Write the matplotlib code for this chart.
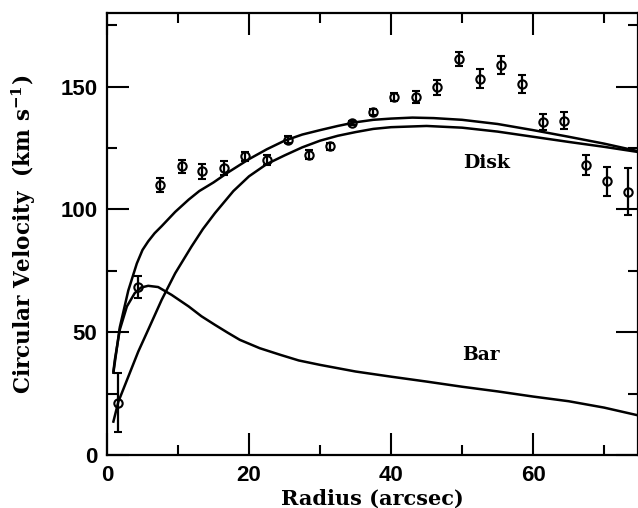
import matplotlib
matplotlib.use('Agg')
import matplotlib.pyplot as plt
import numpy as np

# observed circular velocities
radius = [1.5, 4.4, 7.5, 10.5, 13.4, 16.5, 19.5, 22.5, 25.5, 28.4, 31.4, 34.5, 37.5,
          40.4, 43.5, 46.5, 49.6, 52.5, 55.5, 58.5, 61.4, 64.4, 67.4, 70.4, 73.4]
vel = [21.2, 68.4, 110.0, 117.5, 115.5, 116.9, 121.6, 120.3, 128.4, 122.3, 125.7, 135.2, 139.7,
       145.8, 145.8, 149.7, 161.4, 153.3, 158.7, 151.2, 135.6, 136.2, 118.2, 111.4, 107.3]
vel_err = [12.0, 4.3, 3.0, 2.7, 2.9, 2.9, 1.7, 2.0, 1.5, 1.8, 1.5, 1.0, 1.3,
           1.5, 2.4, 2.9, 2.9, 3.9, 3.6, 3.6, 3.4, 3.6, 4.1, 5.8, 9.5]

# model curves
r_total = [0.9, 1.8, 3.0, 4.2, 5.0, 5.8, 6.7, 7.7, 9.6, 11.5, 13.0, 15.0, 17.0, 20.0, 22.5,
           25.0, 27.5, 30.0, 32.5, 35.0, 37.5, 40.0, 43.0, 46.0, 50.0, 55.0, 60.0, 65.0,
           70.0, 75.0]
v_total = [33.5, 52.0, 67.0, 78.0, 83.5, 87.0, 90.3, 93.2, 99.0, 104.0, 107.5, 111.0, 115.0,
           120.5, 124.5, 128.0, 130.5, 132.3, 134.0, 135.5, 136.5, 137.0, 137.4, 137.2, 136.5,
           134.8, 132.3, 129.6, 126.8, 123.6]

r_disk = [0.9, 1.6, 3.0, 4.4, 5.8, 7.7, 9.6, 11.9, 13.5, 15.2, 17.8, 20.0, 22.5, 25.0, 27.5,
          30.0, 32.5, 35.0, 37.5, 40.0, 45.0, 50.0, 55.0, 60.0, 65.0, 70.0, 75.0]
v_disk = [13.6, 21.7, 31.9, 42.1, 51.0, 63.2, 74.0, 84.9, 92.0, 98.5, 107.5, 113.5, 118.5,
          122.0, 125.3, 128.0, 130.0, 131.5, 132.8, 133.5, 134.0, 133.3, 131.7, 129.6, 127.5,
          125.5, 123.3]

r_bar = [0.9, 1.1, 1.8, 2.8, 3.9, 4.8, 5.8, 7.2, 9.1, 11.5, 13.3, 15.2, 17.0, 18.7, 21.5,
         24.4, 27.0, 30.0, 35.0, 40.0, 45.0, 50.0, 55.0, 60.0, 65.0, 70.0, 75.0]
v_bar = [34.0, 38.7, 51.0, 60.5, 65.9, 68.2, 68.9, 68.4, 65.2, 60.5, 56.5, 53.0, 49.8, 46.9,
         43.5, 40.8, 38.5, 36.7, 34.0, 31.9, 29.9, 27.8, 25.9, 23.8, 21.9, 19.3, 16.0]

plt.rcParams['mathtext.fontset'] = 'dejavuserif'
plt.rcParams['mathtext.default'] = 'bf'

fig = plt.figure(figsize=(6.38, 5.08), dpi=100)
ax = fig.add_axes([107 / 638, 1 - 455 / 508, 530.5 / 638, 442 / 508])

ax.plot(r_total, v_total, color='black', lw=1.8, zorder=2)
ax.plot(r_disk, v_disk, color='black', lw=1.8, zorder=2)
ax.plot(r_bar, v_bar, color='black', lw=1.8, zorder=2)

ax.errorbar(radius, vel, yerr=vel_err, fmt='o', ms=6, mfc='none', mec='black', mew=1.5,
            ecolor='black', elinewidth=1.6, capsize=3, capthick=1.6, zorder=3)

ax.text(53.5, 118.8, 'Disk', family='DejaVu Serif', fontweight='bold', fontsize=13.5,
        ha='center', va='center')
ax.text(52.7, 40.8, 'Bar', family='DejaVu Serif', fontweight='bold', fontsize=13.5,
        ha='center', va='center')

ax.set_xlim(0, 74.7)
ax.set_ylim(0, 180)
ax.set_xticks([0, 20, 40, 60])
ax.set_xticks([10, 30, 50, 70], minor=True)
ax.set_yticks([0, 50, 100, 150])
ax.set_yticks([25, 75, 125, 175], minor=True)
ax.tick_params(which='both', direction='in', top=True, right=True, width=1.5, color='black')
ax.tick_params(which='major', length=16, pad=7)
ax.tick_params(which='minor', length=7.5)
for lab in ax.get_xticklabels() + ax.get_yticklabels():
    lab.set_family('Liberation Sans')
    lab.set_fontweight('bold')
    lab.set_fontsize(16)
for s in ax.spines.values():
    s.set_linewidth(1.6)

ax.set_xlabel('Radius (arcsec)', family='DejaVu Serif', fontweight='bold', fontsize=15, labelpad=2)
ax.set_ylabel('Circular Velocity  (km s$^{-1}$)', family='DejaVu Serif', fontweight='bold',
              fontsize=15.5, labelpad=16)

fig.savefig('out.png', dpi=100)
